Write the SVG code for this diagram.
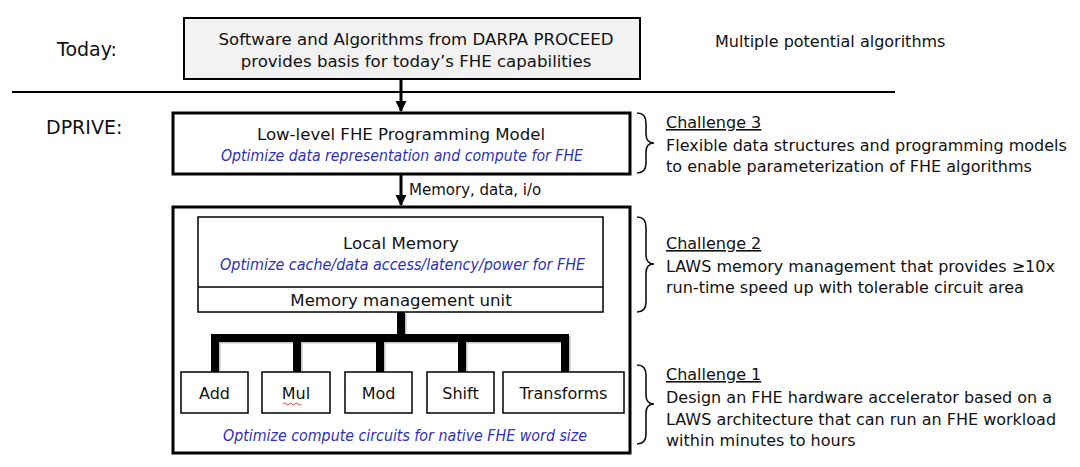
<svg xmlns="http://www.w3.org/2000/svg" width="1080" height="467" viewBox="0 0 1080 467">
<style>
text{font-family:"DejaVu Sans","Liberation Sans",sans-serif;fill:#111;}
.t16{font-size:16px;}
.t165{font-size:16.6px;}
.lbl{font-size:19px;}
.ch{font-size:16px;}
.it{font-size:15.5px;font-style:italic;fill:#2e31b8;}
.box{fill:#fff;stroke:#000;}
.brace{fill:none;stroke:#111;stroke-width:1.6;}
.bus{stroke:#000;stroke-width:8;fill:none;}
.busShadow{stroke:#777;stroke-width:8;fill:none;opacity:0.45;}
</style>
<defs>
<marker id="ah" markerWidth="12" markerHeight="12" refX="10" refY="6" orient="auto" markerUnits="userSpaceOnUse" viewBox="0 0 12 12">
<path d="M0,0.5 L11,6 L0,11.5 Z" fill="#000"/>
</marker>
</defs>
<rect width="1080" height="467" fill="#fff"/>

<g id="side-labels">
<text class="lbl" x="57" y="56">Today:</text>
<text class="lbl" x="46" y="134">DPRIVE:</text>
<text class="t16" x="715" y="47">Multiple potential algorithms</text>
<line x1="12" y1="92" x2="895" y2="92" stroke="#000" stroke-width="2"/>
</g>

<g id="node-proceed">
<rect x="184" y="18" width="456" height="61" fill="#f2f2f2" stroke="#000" stroke-width="2"/>
<text class="t165" x="416" y="45" text-anchor="middle">Software and Algorithms from DARPA PROCEED</text>
<text class="t165" x="416" y="67" text-anchor="middle">provides basis for today’s FHE capabilities</text>
</g>

<g id="node-programming-model">
<rect class="box" x="173" y="113" width="457" height="61" stroke-width="3"/>
<text class="t165" x="401" y="140" text-anchor="middle">Low-level FHE Programming Model</text>
<text class="it" x="221" y="161" textLength="362" lengthAdjust="spacingAndGlyphs">Optimize data representation and compute for FHE</text>
</g>

<g id="node-accelerator">
<rect class="box" x="173" y="207" width="457" height="246" stroke-width="3"/>
<text class="it" x="223" y="441" textLength="364" lengthAdjust="spacingAndGlyphs">Optimize compute circuits for native FHE word size</text>
</g>

<g id="node-local-memory">
<rect class="box" x="198" y="217" width="405" height="95" stroke-width="1.5"/>
<line x1="198" y1="287" x2="603" y2="287" stroke="#000" stroke-width="1.5"/>
<text class="t165" x="401" y="249" text-anchor="middle">Local Memory</text>
<text class="it" x="220" y="270" textLength="365" lengthAdjust="spacingAndGlyphs">Optimize cache/data access/latency/power for FHE</text>
<text class="t165" x="401" y="306" text-anchor="middle">Memory management unit</text>
</g>

<g id="connectors">
<line x1="401" y1="79" x2="401" y2="111" stroke="#000" stroke-width="3" marker-end="url(#ah)"/>
<line x1="401" y1="175" x2="401" y2="205" stroke="#000" stroke-width="3" marker-end="url(#ah)"/>
<text class="t16" x="409" y="195" style="font-size:15px">Memory, data, i/o</text>
<g transform="translate(1.5,1.5)">
<path class="busShadow" d="M401,312 V338 M211,338 H569 M215,338 V372 M297,338 V372 M380,338 V372 M462,338 V372 M565,338 V372"/>
</g>
<path class="bus" d="M401,312 V338 M211,338 H569 M215,338 V372 M297,338 V372 M380,338 V372 M462,338 V372 M565,338 V372"/>
</g>

<g id="node-add">
<rect class="box" x="181" y="372" width="67" height="41" stroke-width="1.5"/>
<text class="t16" x="214.5" y="399" text-anchor="middle">Add</text>
</g>
<g id="node-mul">
<rect class="box" x="262" y="372" width="68" height="41" stroke-width="1.5"/>
<text class="t16" x="296" y="399" text-anchor="middle">Mul</text>
<path d="M283,404 q1.5,-2 3,0 t3,0 t3,0 t3,0 t3,0 t3,0" fill="none" stroke="#d03030" stroke-width="0.9"/>
</g>
<g id="node-mod">
<rect class="box" x="345" y="372" width="67" height="41" stroke-width="1.5"/>
<text class="t16" x="378.5" y="399" text-anchor="middle">Mod</text>
</g>
<g id="node-shift">
<rect class="box" x="427" y="372" width="67" height="41" stroke-width="1.5"/>
<text class="t16" x="460.5" y="399" text-anchor="middle">Shift</text>
</g>
<g id="node-transforms">
<rect class="box" x="503" y="372" width="121" height="41" stroke-width="1.5"/>
<text class="t16" x="563.5" y="399" text-anchor="middle">Transforms</text>
</g>

<g id="challenge-3">
<path class="brace" d="M637,113 Q646,113 646,123 L646,134 Q646,143 654,143 Q646,143 646,152 L646,163 Q646,173 637,173"/>
<text class="ch" x="666" y="128" text-decoration="underline">Challenge 3</text>
<text class="ch" x="666" y="151">Flexible data structures and programming models</text>
<text class="ch" x="666" y="172">to enable parameterization of FHE algorithms</text>
</g>

<g id="challenge-2">
<path class="brace" d="M637,217 Q646,217 646,227 L646,255 Q646,264 654,264 Q646,264 646,273 L646,302 Q646,312 637,312"/>
<text class="ch" x="666" y="249" text-decoration="underline">Challenge 2</text>
<text class="ch" x="666" y="272">LAWS memory management that provides ≥10x</text>
<text class="ch" x="666" y="293">run-time speed up with tolerable circuit area</text>
</g>

<g id="challenge-1">
<path class="brace" d="M637,365 Q646,365 646,375 L646,395 Q646,404 654,404 Q646,404 646,413 L646,434 Q646,444 637,444"/>
<text class="ch" x="666" y="380" text-decoration="underline">Challenge 1</text>
<text class="ch" x="666" y="403">Design an FHE hardware accelerator based on a</text>
<text class="ch" x="666" y="425">LAWS architecture that can run an FHE workload</text>
<text class="ch" x="666" y="446">within minutes to hours</text>
</g>
</svg>
